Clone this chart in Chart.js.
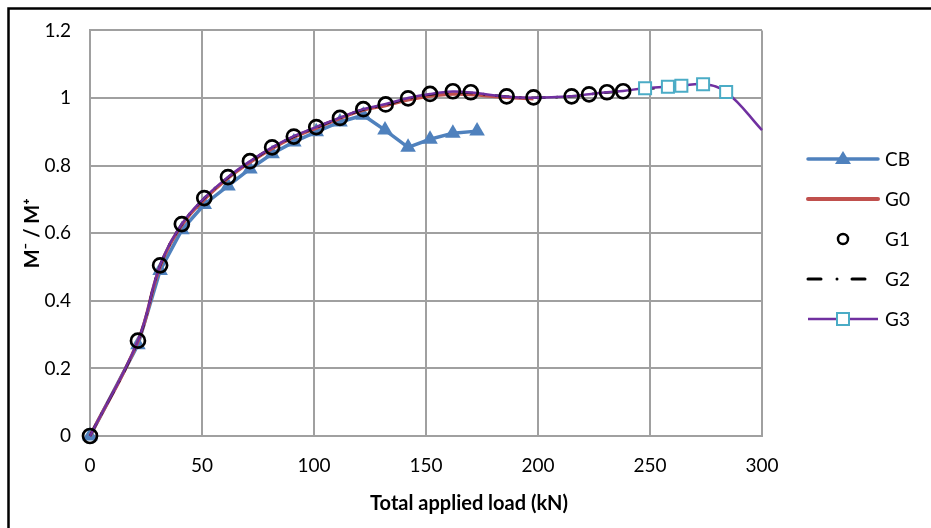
<!DOCTYPE html>
<html>
<head>
<meta charset="utf-8">
<script src="https://cdn.jsdelivr.net/npm/chart.js@4"></script>
<style>
  html, body { margin: 0; padding: 0; background: #fff; }
  #wrap { width: 931px; height: 528px; position: relative; }
</style>
</head>
<body>
<div id="wrap"><canvas id="c" width="931" height="528"></canvas></div>
<script>
// ---- data ----
const cbLoads  = [0, 21.4, 31.3, 41, 51, 61.6, 71.4, 81.3, 91, 101, 111.6, 122, 131.7, 142, 151.8, 162, 172.8];
const cbValues = [0, 0.27, 0.49, 0.61, 0.685, 0.74, 0.79, 0.835, 0.87, 0.90, 0.929, 0.949, 0.905, 0.854, 0.878, 0.896, 0.902];

const g0Loads  = [0, 21.4, 31.3, 41, 51, 61.6, 71.4, 81.3, 91, 101, 111.6, 122, 132, 142, 151.8, 162, 170, 186, 198];
const g0Values = [0, 0.28, 0.502, 0.624, 0.70, 0.763, 0.81, 0.851, 0.884, 0.911, 0.94, 0.964, 0.978, 0.995, 1.006, 1.012, 1.010, 1.002, 0.998];

const g1Loads  = [0, 21.4, 31.3, 41, 51, 61.6, 71.4, 81.3, 91, 101, 111.6, 122, 132, 142, 151.8, 162, 170, 186, 198, 215, 222.8, 230.8, 238];
const g1Values = [0, 0.282, 0.505, 0.627, 0.704, 0.766, 0.813, 0.854, 0.886, 0.914, 0.941, 0.967, 0.981, 0.999, 1.012, 1.020, 1.017, 1.005, 1.002, 1.005, 1.011, 1.017, 1.020];

const g2Loads  = [0, 21.4, 31.3, 41, 51, 61.6, 71.4, 81.3, 91, 101, 111.6, 122, 132, 142, 151.8, 162, 170, 186, 198, 215, 222.8, 230.8, 238, 247.8, 258, 264];
const g2Values = [0, 0.281, 0.504, 0.626, 0.703, 0.765, 0.812, 0.853, 0.886, 0.913, 0.941, 0.966, 0.980, 0.998, 1.010, 1.017, 1.015, 1.004, 1.001, 1.005, 1.011, 1.016, 1.020, 1.027, 1.031, 1.034];

const g3Loads  = [0, 21.4, 31.3, 41, 51, 61.6, 71.4, 81.3, 91, 101, 111.6, 122, 132, 142, 151.8, 162, 170, 186, 198, 215, 222.8, 230.8, 238, 247.8, 258, 264, 273.7, 284, 300];
const g3Values = [0, 0.282, 0.505, 0.627, 0.704, 0.766, 0.813, 0.854, 0.887, 0.914, 0.942, 0.967, 0.982, 1.000, 1.012, 1.019, 1.016, 1.004, 1.001, 1.005, 1.011, 1.017, 1.021, 1.029, 1.033, 1.036, 1.041, 1.018, 0.905];
const g3MarkerFrom = 23; // squares visible from the 248 kN point on

const xTickLabels = ['0', '50', '100', '150', '200', '250', '300'];
const yTickLabels = ['0', '0.2', '0.4', '0.6', '0.8', '1', '1.2'];

const seriesNames = ['CB', 'G0', 'G1', 'G2', 'G3'];
const xTitle = 'Total applied load (kN)';
const yTitle = 'M\u207B / M\u207A';

// ---- helpers ----
function pts(xs, ys) { return xs.map((x, i) => ({ x: x, y: ys[i] })); }

const FONT = "Lato, 'Open Sans', 'DejaVu Sans', sans-serif";
const GRID = '#a0a0a0';

const C_CB = '#4F81BD', C_G0 = '#C0504D', C_G1 = '#000000', C_G2 = '#000000', C_G3 = '#7030A0', C_G3M = '#4BACC6';

const datasets = [
  { label: seriesNames[0], data: pts(cbLoads, cbValues), borderColor: C_CB, backgroundColor: C_CB,
    borderWidth: 3.5, tension: 0, pointStyle: 'triangle', pointRadius: 9, pointBorderWidth: 0,
    pointBackgroundColor: C_CB, order: 4, clip: false },
  { label: seriesNames[1], data: pts(g0Loads, g0Values), borderColor: C_G0, backgroundColor: C_G0,
    borderWidth: 3.5, tension: 0.4, pointRadius: 0, order: 3, clip: false },
  { label: seriesNames[2], data: pts(g1Loads, g1Values), borderColor: C_G1, backgroundColor: 'rgba(0,0,0,0)',
    showLine: false, pointStyle: 'circle', pointRadius: 7, pointBorderWidth: 2.7,
    pointBackgroundColor: 'rgba(0,0,0,0)', pointBorderColor: C_G1, order: 0, clip: false },
  { label: seriesNames[3], data: pts(g2Loads, g2Values), borderColor: C_G2, backgroundColor: C_G2,
    borderWidth: 2.5, borderDash: [14, 10, 2.5, 10], tension: 0.4, pointRadius: 0, order: 2, clip: false },
  { label: seriesNames[4], data: pts(g3Loads, g3Values), borderColor: C_G3, backgroundColor: C_G3,
    borderWidth: 2.5, tension: 0.4, pointStyle: 'rect',
    pointRadius: g3Loads.map((_, i) => i >= g3MarkerFrom && i < g3Loads.length - 1 ? 8.5 : 0),
    pointBorderWidth: 2, pointBorderColor: C_G3M, pointBackgroundColor: '#ffffff', order: 1, clip: false }
];

// frame around the chart (outer border)
const framePlugin = {
  id: 'frame',
  beforeDraw(chart) {
    const ctx = chart.ctx;
    ctx.save();
    ctx.fillStyle = '#fff';
    ctx.fillRect(0, 0, chart.width, chart.height);
    ctx.strokeStyle = '#000';
    ctx.lineWidth = 2.5;
    ctx.strokeRect(8.5, 8.5, chart.width + 20, chart.height + 20);
    ctx.restore();
  }
};

// x-axis title (centred where the original places it) + side legend
const textPlugin = {
  id: 'sideLegend',
  afterDraw(chart) {
    const ctx = chart.ctx;
    ctx.save();
    // x title
    ctx.font = "bold 20px " + FONT;
    ctx.fillStyle = '#000';
    ctx.textAlign = 'center';
    ctx.textBaseline = 'middle';
    ctx.fillText(xTitle, 469, 504);

    const x0 = 808, x1 = 878, xm = 843, xt = 885;
    const ys = [159, 199, 239, 279, 319];
    ctx.textAlign = 'left';
    // CB
    ctx.lineCap = 'round';
    ctx.strokeStyle = C_CB; ctx.lineWidth = 3.5;
    ctx.beginPath(); ctx.moveTo(x0, ys[0]); ctx.lineTo(x1, ys[0]); ctx.stroke();
    ctx.lineCap = 'butt';
    ctx.fillStyle = C_CB;
    ctx.beginPath(); ctx.moveTo(xm, ys[0] - 8); ctx.lineTo(xm + 8, ys[0] + 5); ctx.lineTo(xm - 8, ys[0] + 5); ctx.closePath(); ctx.fill();
    // G0
    ctx.lineCap = 'round';
    ctx.strokeStyle = C_G0; ctx.lineWidth = 4;
    ctx.beginPath(); ctx.moveTo(x0, ys[1]); ctx.lineTo(x1, ys[1]); ctx.stroke();
    // G1
    ctx.strokeStyle = C_G1; ctx.lineWidth = 2.5;
    ctx.beginPath(); ctx.arc(xm, ys[2], 5, 0, Math.PI * 2); ctx.stroke();
    // G2
    ctx.lineCap = 'round';
    ctx.strokeStyle = C_G2; ctx.lineWidth = 3;
    ctx.beginPath(); ctx.moveTo(x0, ys[3]); ctx.lineTo(x0 + 13, ys[3]); ctx.stroke();
    ctx.beginPath(); ctx.moveTo(x0 + 44, ys[3]); ctx.lineTo(x0 + 57, ys[3]); ctx.stroke();
    ctx.fillStyle = '#000';
    ctx.beginPath(); ctx.arc(x0 + 29, ys[3], 1.5, 0, Math.PI * 2); ctx.fill();
    // G3
    ctx.lineCap = 'butt';
    ctx.strokeStyle = C_G3; ctx.lineWidth = 2.5;
    ctx.beginPath(); ctx.moveTo(x0, ys[4]); ctx.lineTo(x1, ys[4]); ctx.stroke();
    ctx.fillStyle = '#fff'; ctx.strokeStyle = C_G3M; ctx.lineWidth = 2;
    ctx.fillRect(xm - 6, ys[4] - 6, 12, 12);
    ctx.strokeRect(xm - 6, ys[4] - 6, 12, 12);
    // labels
    ctx.font = "19px " + FONT;
    ctx.fillStyle = '#000';
    seriesNames.forEach((n, i) => ctx.fillText(n, xt, ys[i] + 1));
    ctx.restore();
  }
};

new Chart(document.getElementById('c'), {
  type: 'line',
  data: { datasets: datasets },
  plugins: [framePlugin, textPlugin],
  options: {
    responsive: false,
    animation: false,
    devicePixelRatio: 1,
    layout: { padding: { top: 30, right: 169, left: 0, bottom: 0 } },
    plugins: { legend: { display: false }, tooltip: { enabled: false } },
    scales: {
      x: {
        type: 'linear', min: 0, max: 300,
        afterFit(s) { s.height = 92; },
        ticks: { stepSize: 50, padding: 18, color: '#000', font: { family: FONT, size: 19 },
          callback: (v, i) => xTickLabels[i] },
        grid: { color: GRID, lineWidth: 2, drawTicks: false },
        border: { color: GRID, width: 2 },
        title: { display: false }
      },
      y: {
        type: 'linear', min: 0, max: 1.2,
        afterFit(s) { s.width = 90; },
        ticks: { stepSize: 0.2, padding: 19, color: '#000', font: { family: FONT, size: 19 },
          callback: (v, i) => yTickLabels[i] },
        grid: { color: GRID, lineWidth: 2, drawTicks: false },
        border: { color: GRID, width: 2 },
        title: { display: true, text: yTitle, color: '#000', padding: { top: 21, bottom: 0 },
          font: { family: FONT, size: 20, weight: 'bold' } }
      }
    }
  }
});
</script>
</body>
</html>
